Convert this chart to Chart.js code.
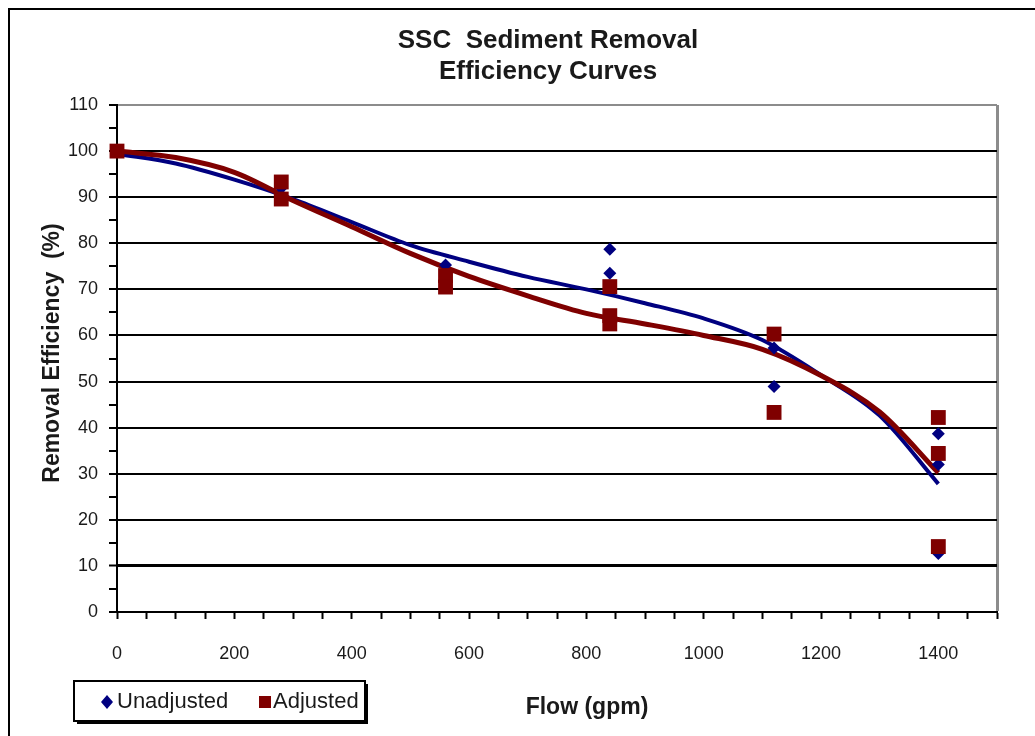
<!DOCTYPE html>
<html>
<head>
<meta charset="utf-8">
<script src="https://cdn.jsdelivr.net/npm/chart.js@4.4.1/dist/chart.umd.min.js"></script>
<style>
  html, body { margin: 0; padding: 0; background: #fff; }
  #wrap { width: 1035px; height: 736px; }
</style>
</head>
<body>
<div id="wrap"><canvas id="chart" width="1035" height="736"></canvas></div>
<script>
// SSC sediment removal efficiency vs flow

const flowUnadjusted = [0, 280, 280, 560, 840, 840, 840, 1120, 1120, 1400, 1400, 1400];
const effUnadjusted = [100, 92, 90.5, 75.3, 78.7, 73.5, 63.5, 57.3, 48.9, 38.7, 32, 12.7];

const flowAdjusted = [0, 280, 280, 560, 560, 840, 840, 840, 1120, 1120, 1400, 1400, 1400];
const effAdjusted = [100, 93.3, 89.6, 73, 70.5, 70.6, 64.3, 62.5, 60.3, 43.3, 42.2, 34.4, 14.2];

// trend curves
const trendFlow = [0, 100, 200, 300, 400, 500, 600, 700, 800, 900, 1000, 1100, 1200, 1300, 1400];
const trendUnadjusted = [99.4, 97.3, 93.8, 89.6, 84.6, 79.6, 76.0, 72.7, 70.0, 67.0, 63.7, 59.0, 51.4, 42.6, 27.8];
const trendAdjusted = [100, 98.6, 95.4, 89.3, 83.6, 77.8, 72.8, 68.6, 64.8, 62.5, 60.0, 57.0, 51.3, 43.4, 30.2];

const seriesNames = ['Unadjusted', 'Adjusted'];
const xLabelStep = 200;
const yLabelStep = 10;

const colors = {
  blue: '#000080',
  red: '#7f0000',
  grid: '#000000',
  border: '#8c8c8c',
  text: '#1a1a1a'
};

const font = "'Liberation Sans', Arial, sans-serif";

function toPoints(xs, ys) {
  return xs.map((x, i) => ({ x, y: ys[i] }));
}

// outer frame, titles and the boxed legend
const decorations = {
  id: 'decorations',
  beforeDraw(chart) {
    const ctx = chart.ctx;
    ctx.save();
    ctx.fillStyle = '#fff';
    ctx.fillRect(0, 0, chart.width, chart.height);
    ctx.strokeStyle = '#000';
    ctx.lineWidth = 2;
    ctx.beginPath();
    ctx.moveTo(9, chart.height);
    ctx.lineTo(9, 9);
    ctx.lineTo(chart.width, 9);
    ctx.stroke();
    ctx.restore();
  },
  afterDraw(chart) {
    const ctx = chart.ctx;
    ctx.save();
    ctx.fillStyle = colors.text;
    ctx.textAlign = 'center';
    ctx.textBaseline = 'middle';

    ctx.font = `bold 26px ${font}`;
    ctx.fillText('SSC  Sediment Removal', 548, 41);
    ctx.fillText('Efficiency Curves', 548, 72);

    ctx.font = `bold 23px ${font}`;
    ctx.fillText('Flow (gpm)', 587, 708);

    ctx.save();
    ctx.translate(53, 353);
    ctx.rotate(-Math.PI / 2);
    ctx.fillText('Removal Efficiency  (%)', 0, 0);
    ctx.restore();

    // legend box with shadow
    const bx = 74, by = 681, bw = 291, bh = 40;
    ctx.fillStyle = '#000';
    ctx.fillRect(bx + 3, by + 3, bw, bh);
    ctx.fillStyle = '#fff';
    ctx.fillRect(bx, by, bw, bh);
    ctx.strokeStyle = '#000';
    ctx.lineWidth = 2;
    ctx.strokeRect(bx, by, bw, bh);

    const ds = chart.data.datasets;
    ctx.font = `22px ${font}`;
    ctx.textAlign = 'left';
    ctx.fillStyle = ds[0].backgroundColor;
    ctx.beginPath();
    ctx.moveTo(107, 695); ctx.lineTo(113, 702); ctx.lineTo(107, 709); ctx.lineTo(101, 702);
    ctx.closePath();
    ctx.fill();
    ctx.fillStyle = colors.text;
    ctx.fillText(ds[0].label, 117, 702);

    ctx.fillStyle = ds[1].backgroundColor;
    ctx.fillRect(259, 696, 12, 12);
    ctx.fillStyle = colors.text;
    ctx.fillText(ds[1].label, 273, 702);
    ctx.restore();
  }
};

new Chart(document.getElementById('chart'), {
  type: 'scatter',
  data: {
    datasets: [
      {
        label: seriesNames[0],
        data: toPoints(flowUnadjusted, effUnadjusted),
        pointStyle: 'rectRot',
        pointRadius: 6.5,
        backgroundColor: colors.blue,
        borderColor: colors.blue,
        borderWidth: 0,
        clip: false,
        order: 1
      },
      {
        label: seriesNames[1],
        data: toPoints(flowAdjusted, effAdjusted),
        pointStyle: 'rect',
        pointRadius: 10.5,
        backgroundColor: colors.red,
        borderColor: colors.red,
        borderWidth: 0,
        clip: false,
        order: 0
      },
      {
        label: 'Unadjusted trend',
        data: toPoints(trendFlow, trendUnadjusted),
        showLine: true,
        pointRadius: 0,
        borderColor: colors.blue,
        borderWidth: 4,
        cubicInterpolationMode: 'monotone',
        order: 3
      },
      {
        label: 'Adjusted trend',
        data: toPoints(trendFlow, trendAdjusted),
        showLine: true,
        pointRadius: 0,
        borderColor: colors.red,
        borderWidth: 5,
        cubicInterpolationMode: 'monotone',
        order: 2
      }
    ]
  },
  options: {
    responsive: false,
    animation: false,
    events: [],
    layout: { padding: { left: 30, right: 38, top: 105, bottom: 0 } },
    plugins: {
      legend: { display: false },
      tooltip: { enabled: false },
      title: { display: false }
    },
    scales: {
      x: {
        type: 'linear',
        min: 0,
        max: 1500,
        afterFit: s => { s.height = 124; },
        ticks: {
          stepSize: 50,
          autoSkip: false,
          maxRotation: 0,
          padding: 24,
          color: colors.text,
          font: { family: font, size: 18 },
          callback: v => (v % xLabelStep === 0 && v <= 1400 ? v : '')
        },
        grid: {
          color: c => (c.tick && c.tick.value === 1500 ? colors.border : 'rgba(0,0,0,0)'),
          lineWidth: c => (c.tick && c.tick.value === 1500 ? 3 : 1),
          tickColor: '#000',
          tickLength: 7,
          tickWidth: 2
        },
        border: { color: '#000', width: 2 }
      },
      y: {
        min: 0,
        max: 110,
        afterFit: s => { s.width = 87; },
        ticks: {
          stepSize: 5,
          autoSkip: false,
          padding: 11,
          color: colors.text,
          font: { family: font, size: 18 },
          callback: v => (v % yLabelStep === 0 ? v : '')
        },
        grid: {
          color: c => {
            const v = c.tick ? c.tick.value : 0;
            if (v === 110) return colors.border;
            return v % yLabelStep === 0 ? colors.grid : 'rgba(0,0,0,0)';
          },
          lineWidth: c => {
            const v = c.tick ? c.tick.value : 0;
            return v === 10 ? 3 : 2;
          },
          tickColor: '#000',
          tickLength: 8,
          tickWidth: 2
        },
        border: { color: '#000', width: 2 }
      }
    }
  },
  plugins: [decorations]
});
</script>
</body>
</html>
